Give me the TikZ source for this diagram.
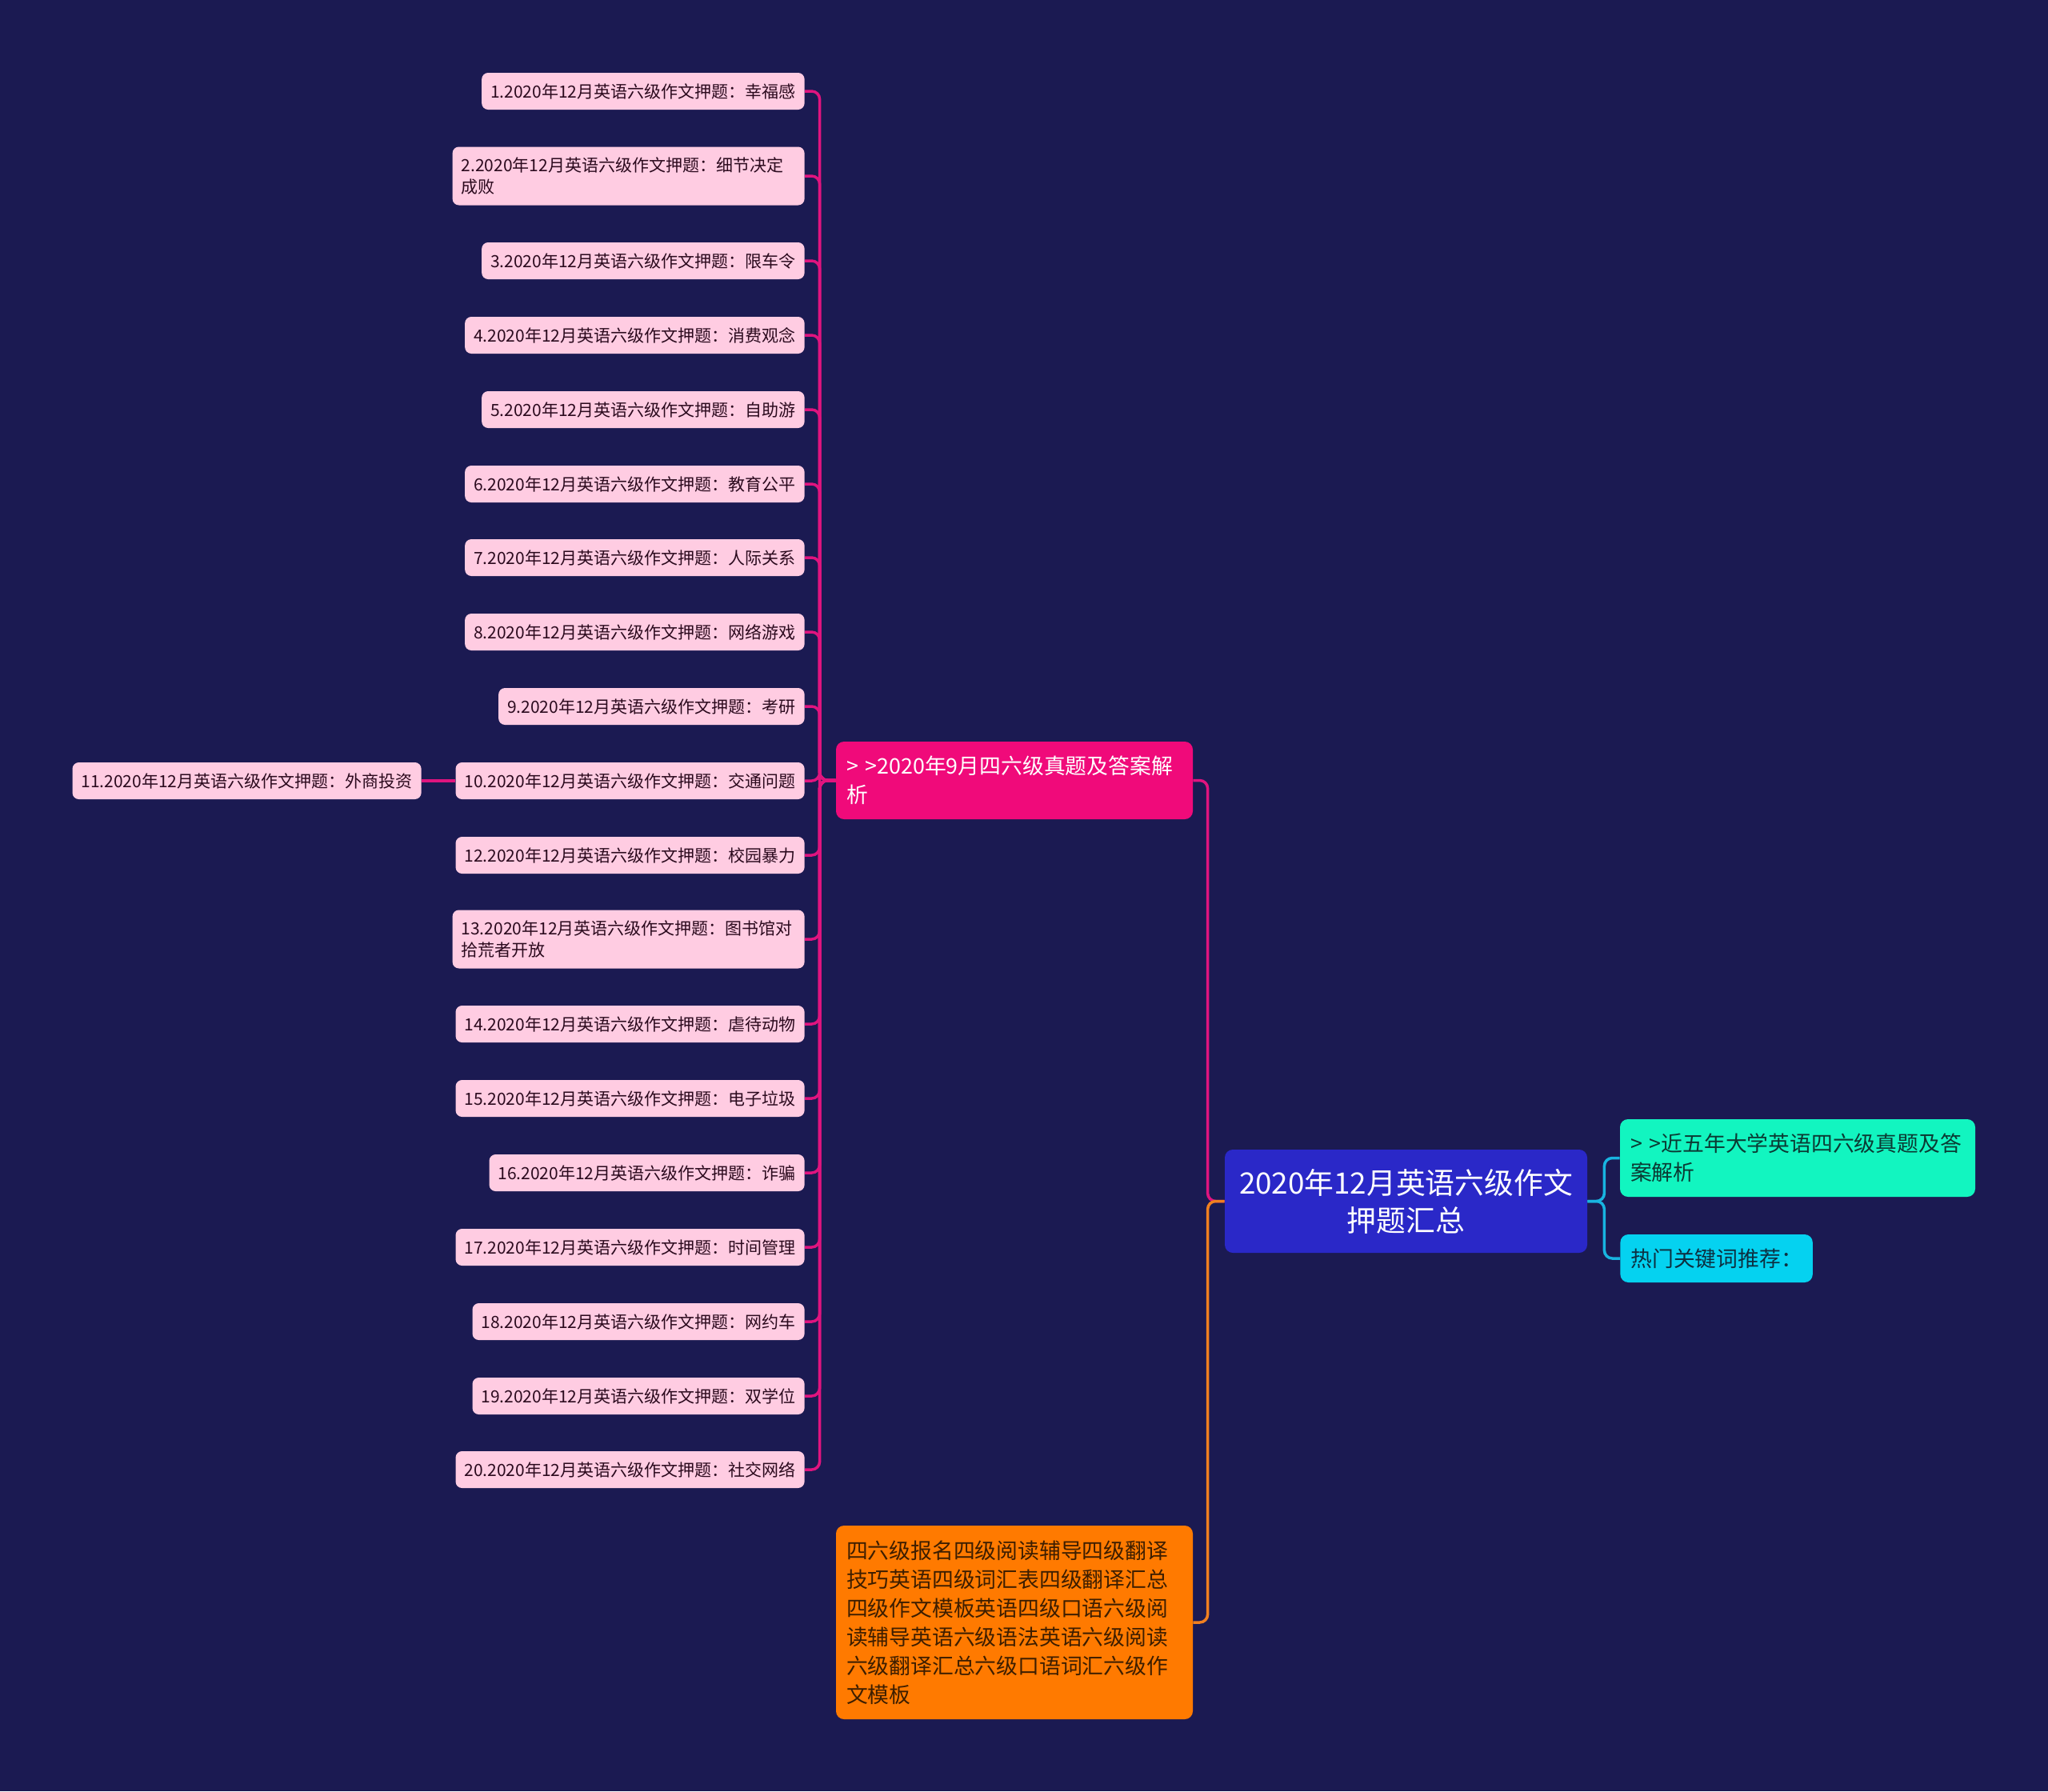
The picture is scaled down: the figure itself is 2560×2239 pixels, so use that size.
\documentclass[tikz,border=0pt]{standalone}
\usepackage{fontspec}
\setmainfont{Noto Sans CJK SC}
\definecolor{bg}{HTML}{1B1A52}
\definecolor{leafpink}{HTML}{FFCCE2}
\definecolor{leaftext}{HTML}{2B0A1E}
\definecolor{pinkfill}{HTML}{F00A7A}
\definecolor{pinkline}{HTML}{E0147F}
\definecolor{orangefill}{HTML}{FF7A00}
\definecolor{orangetext}{HTML}{3D1E00}
\definecolor{orangeline}{HTML}{F08020}
\definecolor{tealfill}{HTML}{12F5C0}
\definecolor{tealtext}{HTML}{0B3A33}
\definecolor{cyanfill}{HTML}{05D2F0}
\definecolor{cyantext}{HTML}{0D2F40}
\definecolor{cyanline}{HTML}{18B4E0}
\definecolor{rootfill}{HTML}{2A28C8}
\begin{document}
\begin{tikzpicture}[x=0.5pt,y=-0.5pt,
  leaf/.style={fill=leafpink, text=leaftext, rounded corners=4pt,
    font=\fontsize{10.5pt}{13.5pt}\selectfont, inner xsep=5.5pt, inner ysep=0pt,
    minimum height=23pt, anchor=east, align=left},
  leaftwo/.style={leaf, text width=209pt, minimum height=36.5pt},
  midbox/.style={rounded corners=5pt, font=\fontsize{13.4pt}{18pt}\selectfont,
    inner xsep=6.5pt, inner ysep=0pt, align=left},
  rootbox/.style={fill=rootfill, text=white, rounded corners=5pt,
    font=\fontsize{18.4pt}{23.5pt}\selectfont, align=center,
    minimum width=226.5pt, minimum height=64.5pt, inner sep=0pt},
  conn/.style={line width=1.75pt, rounded corners=5pt},
  pinkconn/.style={conn, draw=pinkline},
  orangeconn/.style={conn, draw=orangeline},
  cyanconn/.style={conn, draw=cyanline}]
\fill[bg] (0,0) rectangle (2560,2239);
\useasboundingbox (0,0) rectangle (2560,2239);

% root
\node[rootbox] (root) at (1757.5,1501.5) {2020年12月英语六级作文\\押题汇总};

% level 2
\node[midbox, fill=pinkfill, text=white, text width=210pt, minimum height=48.5pt] (p1) at (1268,975.5)
  {> >2020年9月四六级真题及答案解\\析};
\node[midbox, fill=orangefill, text=orangetext, text width=210pt, minimum height=121pt] (p2) at (1268,2028)
  {四六级报名四级阅读辅导四级翻译\\技巧英语四级词汇表四级翻译汇总\\四级作文模板英语四级口语六级阅\\读辅导英语六级语法英语六级阅读\\六级翻译汇总六级口语词汇六级作\\文模板};
\node[midbox, fill=tealfill, text=tealtext, text width=209pt, minimum height=48.5pt] (p3) at (2247,1447.5)
  {> >近五年大学英语四六级真题及答\\案解析};
\node[midbox, fill=cyanfill, text=cyantext, minimum height=30pt, anchor=west] (p4) at (2025,1573)
  {热门关键词推荐：};

% leaves
\node[leaf] (l1) at (1006,114) {1.2020年12月英语六级作文押题：幸福感};
\node[leaftwo] (l2) at (1006,220) {2.2020年12月英语六级作文押题：细节决定\\成败};
\node[leaf] (l3) at (1006,326) {3.2020年12月英语六级作文押题：限车令};
\node[leaf] (l4) at (1006,419) {4.2020年12月英语六级作文押题：消费观念};
\node[leaf] (l5) at (1006,512) {5.2020年12月英语六级作文押题：自助游};
\node[leaf] (l6) at (1006,605) {6.2020年12月英语六级作文押题：教育公平};
\node[leaf] (l7) at (1006,697) {7.2020年12月英语六级作文押题：人际关系};
\node[leaf] (l8) at (1006,790) {8.2020年12月英语六级作文押题：网络游戏};
\node[leaf] (l9) at (1006,883) {9.2020年12月英语六级作文押题：考研};
\node[leaf] (l10) at (1006,976) {10.2020年12月英语六级作文押题：交通问题};
\node[leaf] (l11) at (527,976) {11.2020年12月英语六级作文押题：外商投资};
\node[leaf] (l12) at (1006,1069) {12.2020年12月英语六级作文押题：校园暴力};
\node[leaftwo] (l13) at (1006,1174) {13.2020年12月英语六级作文押题：图书馆对\\拾荒者开放};
\node[leaf] (l14) at (1006,1280) {14.2020年12月英语六级作文押题：虐待动物};
\node[leaf] (l15) at (1006,1373) {15.2020年12月英语六级作文押题：电子垃圾};
\node[leaf] (l16) at (1006,1466) {16.2020年12月英语六级作文押题：诈骗};
\node[leaf] (l17) at (1006,1559) {17.2020年12月英语六级作文押题：时间管理};
\node[leaf] (l18) at (1006,1652) {18.2020年12月英语六级作文押题：网约车};
\node[leaf] (l19) at (1006,1745) {19.2020年12月英语六级作文押题：双学位};
\node[leaf] (l20) at (1006,1837) {20.2020年12月英语六级作文押题：社交网络};

% connectors root
\draw[pinkconn] (root.west) -- ++(-21,0) |- (p1.east);
\draw[orangeconn] (root.west) -- ++(-21,0) |- (p2.east);
\draw[cyanconn] (root.east) -- ++(21,0) |- (p3.west);
\draw[cyanconn] (root.east) -- ++(21,0) |- (p4.west);

% connectors leaves
\foreach \n in {1,2,3,4,5,6,7,8,9,10,12,13,14,15,16,17,18,19,20}{
  \draw[pinkconn] (p1.west) -- ++(-20,0) |- (l\n.east);
}
\draw[pinkconn] (l10.west) -- (l11.east);
\end{tikzpicture}
\end{document}
